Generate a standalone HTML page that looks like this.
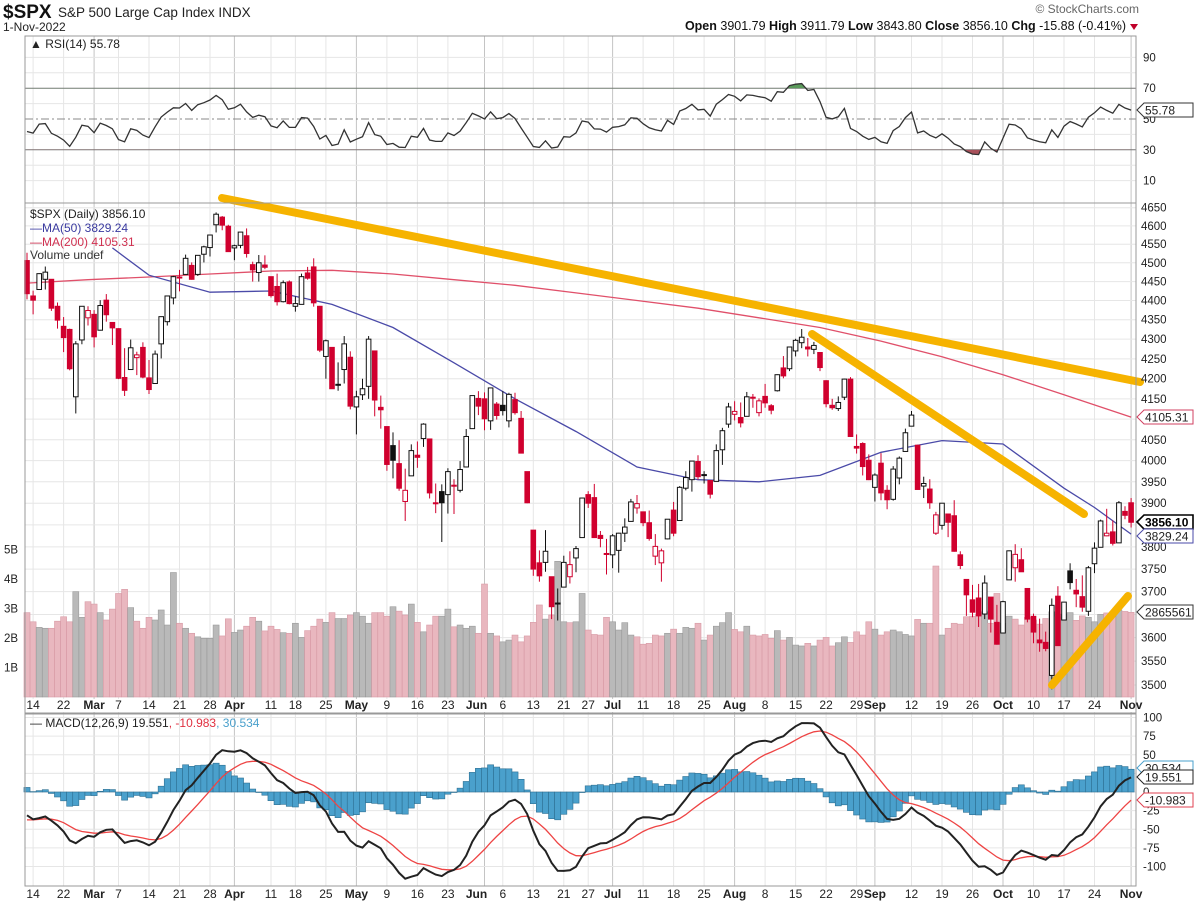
<!DOCTYPE html>
<html><head><meta charset="utf-8"><style>
html,body{margin:0;padding:0;background:#fff;}
svg{display:block;font-family:"Liberation Sans",Arial,sans-serif;}
</style></head><body>
<svg id="chart" width="1200" height="910" viewBox="0 0 1200 910" xmlns="http://www.w3.org/2000/svg">
<rect x="0" y="0" width="1200" height="910" fill="#fff"/>
<g>
<text x="3" y="18" font-size="19" font-weight="bold" fill="#111">$SPX</text>
<text x="58" y="17" font-size="13.5" fill="#222">S&amp;P 500 Large Cap Index  INDX</text>
<text x="3" y="31" font-size="12" fill="#222">1-Nov-2022</text>
<text x="1139" y="13" font-size="12" fill="#666" text-anchor="end">© StockCharts.com</text>
<text x="1126" y="30" font-size="12.5" fill="#111" text-anchor="end"><tspan font-weight="bold">Open</tspan> 3901.79  <tspan font-weight="bold">High</tspan> 3911.79  <tspan font-weight="bold">Low</tspan> 3843.80  <tspan font-weight="bold">Close</tspan> 3856.10  <tspan font-weight="bold">Chg</tspan> -15.88 (-0.41%)</text>
<path d="M1130 24 L1138 24 L1134 30 Z" fill="#c0002a"/>
</g>
<g id="grid"></g>
<g id="vol"></g>
<g id="price"></g>
<g id="rsi"></g>
<g id="macd"></g>
<g id="trend">
<line x1="222" y1="198" x2="1140" y2="382" stroke="#f6b300" stroke-width="8" stroke-linecap="round"/>
<line x1="812" y1="334" x2="1084" y2="514" stroke="#f6b300" stroke-width="8" stroke-linecap="round"/>
<line x1="1052" y1="685" x2="1128" y2="596" stroke="#f6b300" stroke-width="8" stroke-linecap="round"/>
</g>
<g id="frames"></g>
<g id="labels"></g>
</svg>
<script>
// ---- data (Feb 11 2022 .. Nov 1 2022) ----
const opens = [4506,4412,4429,4456,4456,4385,4333,4325,4155,4298,4355,
4364,4323,4401,4343,4327,4203,4223,4253,4279,4202,4188,4288,4345,4407,4462,4469,4493,4469,4523,4541,4603,4624,4599,
4540,4547,4573,4495,4474,4494,4463,4437,4397,4449,4385,4390,4473,4489,4385,4256,4279,4186,4223,4254,
4130,4160,4181,4270,4129,4082,4036,3993,3904,3964,4013,4053,4052,3900,3927,3920,3942,3930,3985,4077,4151,
4150,4096,4137,4134,4096,4148,4102,3974,3838,3764,3765,3733,3675,3710,3733,3775,3821,3920,3913,3826,3785,
3782,3792,3831,3858,3889,3880,3855,3779,3764,3818,3884,3860,3935,3955,3998,3965,3953,3951,4026,4088,
4112,4104,4107,4154,4116,4156,4133,4170,4227,4225,4270,4291,4280,4274,4266,4195,4134,4126,4154,4199,4034,4041,4001,
3937,3994,3930,3909,3959,4022,4083,4037,3940,3933,3831,3849,3875,3871,3782,3727,3682,3686,3651,3688,3633,
3610,3726,3753,3771,3707,3646,3595,3590,3520,3690,3638,3746,3703,3689,3657,3762,3799,3825,3834,3809,3881,
3901];
const highs = [4527,4426,4472,4490,4456,4395,4357,4327,4295,4385,4385,
4375,4401,4417,4343,4328,4277,4299,4268,4292,4247,4271,4358,4412,4465,4481,4522,4501,4520,4546,4575,4637,4627,4603,
4549,4583,4593,4503,4521,4520,4463,4471,4453,4453,4411,4471,4489,4512,4386,4299,4279,4241,4308,4269,
4170,4200,4308,4270,4158,4082,4068,4049,3981,4039,4046,4090,4052,3946,3944,3982,3956,3999,4076,4158,4169,
4166,4177,4142,4169,4165,4165,4120,3974,3838,3792,3838,3733,3707,3780,3790,3802,3913,3928,3945,3836,3818,
3829,3832,3865,3910,3919,3880,3883,3829,3796,3863,3903,3940,3975,3999,4013,3975,3954,4039,4079,4140,
4144,4141,4167,4162,4151,4187,4137,4211,4257,4280,4301,4326,4303,4293,4267,4196,4150,4156,4200,4204,4063,4044,4015,
3970,4018,3942,3987,4010,4077,4120,4038,3962,3956,3880,3900,3876,3907,3790,3727,3715,3717,3736,3688,3671,
3680,3792,3806,3797,3707,3652,3641,3613,3685,3712,3677,3763,3728,3736,3757,3810,3862,3887,3860,3905,3893,
3912];
const lows = [4403,4364,4429,4429,4373,4327,4267,4221,4114,4287,4335,
4279,4322,4345,4285,4199,4157,4223,4209,4201,4162,4187,4251,4335,4390,4424,4469,4455,4465,4501,4517,4582,4588,4530,
4507,4539,4514,4450,4450,4483,4408,4387,4395,4390,4371,4390,4455,4384,4267,4200,4175,4170,4188,4124,
4063,4147,4150,4107,4077,3976,3958,3929,3859,3964,3983,4033,3911,3877,3811,3876,3875,3925,3984,4077,4110,
4073,4074,4099,4109,4080,4111,4018,3900,3735,3722,3744,3640,3637,3710,3718,3743,3821,3889,3820,3799,3738,
3752,3742,3811,3858,3876,3847,3814,3759,3722,3817,3824,3860,3930,3927,3955,3946,3911,3951,3990,4079,
4097,4080,4107,4128,4107,4128,4112,4168,4201,4219,4256,4277,4256,4262,4219,4129,4123,4120,4147,4057,4017,3965,3954,
3904,3907,3886,3906,3944,4022,4083,3933,3912,3887,3827,3839,3822,3789,3750,3647,3644,3623,3640,3611,3585,
3610,3726,3722,3744,3633,3588,3570,3571,3491,3583,3638,3705,3666,3656,3647,3741,3799,3824,3803,3809,3863,
3844];
const closes = [4418,4401,4471,4475,4380,4349,4304,4225,4288,4385,4374,
4306,4387,4363,4329,4201,4171,4278,4260,4204,4173,4262,4358,4412,4463,4461,4512,4456,4520,4543,4575,4632,4602,4530,
4546,4583,4525,4481,4500,4488,4413,4397,4447,4392,4392,4463,4459,4394,4272,4296,4175,4184,4288,4132,
4155,4175,4300,4147,4123,3991,4001,3935,3930,4024,4008,4088,3924,3901,3901,3974,3941,3979,4058,4158,4132,
4101,4177,4109,4121,4161,4116,4018,3901,3750,3735,3790,3667,3675,3765,3760,3796,3912,3900,3821,3819,3785,
3825,3831,3845,3903,3899,3855,3819,3801,3791,3863,3831,3937,3960,3999,3962,3967,3921,4024,4072,4130,
4119,4091,4155,4152,4145,4140,4122,4210,4207,4280,4297,4305,4275,4284,4228,4138,4128,4141,4199,4058,4030,3986,3955,
3966,3924,3908,3980,4006,4067,4110,3932,3946,3901,3873,3900,3856,3790,3758,3693,3655,3647,3719,3640,3586,
3678,3791,3783,3744,3640,3612,3589,3577,3670,3583,3677,3720,3695,3666,3753,3797,3859,3831,3808,3901,3872,
3856];
const priorCloses = [4513,4577,4538,4592,4686,4701,4668,4712,4669,4635,4709,4669,4621,4568,4649,4697,4726,4791,4786,4793,4778,4766,
4796,4793,4701,4696,4677,4670,4713,4726,4660,4663,4577,4533,4483,4398,4410,4357,4350,4327,4432,4516,
4546,4589,4477,4501,4484,4522,4587,4504];
const volumes = [2.86,2.55,2.36,2.33,2.33,2.57,2.72,2.55,3.57,2.70,3.23,3.15,2.86,2.61,2.98,3.51,3.65,3.03,2.57,2.33,2.70,2.61,2.95,2.44,4.22,
2.50,2.33,2.16,2.04,1.99,1.99,2.44,2.07,2.65,2.19,2.27,2.40,2.70,2.57,2.24,2.40,2.29,2.18,2.16,2.50,2.02,2.25,2.40,2.64,2.53,
2.86,2.66,2.66,2.78,2.86,2.74,2.50,2.86,2.86,2.74,3.06,2.91,2.78,3.15,2.53,2.21,2.44,2.74,2.74,2.98,2.38,2.44,2.33,2.40,2.16,
3.83,2.16,2.07,1.87,1.93,2.10,1.87,2.07,2.53,3.12,2.64,2.78,4.6,2.55,
2.52,2.55,3.51,2.27,2.12,2.10,2.70,2.55,2.27,2.52,2.10,2.04,1.79,1.82,2.10,2.07,2.16,2.30,2.16,2.36,
2.33,2.50,1.93,2.10,2.40,2.52,2.86,2.29,2.21,2.40,2.10,2.07,2.12,1.99,2.25,1.93,2.02,1.76,1.73,1.82,
1.73,1.93,2.02,1.73,1.84,2.04,1.85,2.21,2.10,2.55,2.30,2.10,2.21,2.27,2.21,2.12,2.07,2.63,2.50,2.50,
4.44,
2.10,2.33,2.50,2.47,2.72,2.74,2.80,2.89,2.50,3.51,
2.50,2.74,2.64,2.44,2.70,2.61,2.47,2.66,2.89,2.72,2.81,2.86,2.60,2.75,2.70,2.55,2.80,2.85,2.90,2.95,2.90,2.87];
const ma200Days = [0,10,20,30,40,50,60,70,80,90,100,110,120,130,140,150,160,170,181];
const ma200Vals = [4446,4455,4462,4470,4478,4480,4470,4455,4440,4420,4400,4380,4355,4330,4295,4255,4210,4160,4105];
const ma50Days = [14,20,30,40,50,60,70,80,90,100,110,120,130,140,150,160,170,175,181];
const ma50Vals = [4540,4467,4422,4425,4390,4330,4240,4150,4070,3985,3955,3950,3965,4020,4048,4040,3935,3890,3829];
const xLabelDays = [1,6,11,15,20,25,30,34,40,44,49,54,59,64,69,75,78,83,88,92,96,101,106,111,116,121,126,131,136,139,145,150,155,160,165,170,175,181];
const xLabelText = ['14','22','Mar','7','14','21','28','Apr','11','18','25','May','9','16','23','Jun','6','13','21','27','Jul','11','18','25','Aug','8','15','22','29','Sep','12','19','26','Oct','10','17','24','Nov'];
const monthLabels = ['Mar','Apr','May','Jun','Jul','Aug','Sep','Oct','Nov'];
const priceTicks = [3500,3550,3600,3650,3700,3750,3800,3850,3900,3950,4000,4050,4100,4150,4200,4250,4300,4350,4400,4450,4500,4550,4600,4650];
const volTicks = [1,2,3,4,5];
const rsiTicks = [10,30,50,70,90];
const macdTicks = [100,75,50,25,0,-25,-50,-75,-100];

// ---- geometry ----
const L=25, R=1136;
const xOf = i => 27 + i*6.1;
const yP = p => 685 - 1680*Math.log(p/3500);
const yV = v => 697 - v*29.5;
const yR = r => 119 - (r-50)*1.54;
const yM = m => 792 - m*0.745;
const NS='http://www.w3.org/2000/svg';
function mk(parent, tag, attrs, text){
  const e=document.createElementNS(NS,tag);
  for(const k in attrs) e.setAttribute(k, attrs[k]);
  if(text!==undefined) e.textContent=text;
  document.getElementById(parent).appendChild(e);
  return e;
}

// ---- indicators derived from closes ----
const all = priorCloses.concat(closes);
function ema(arr, n){const k=2/(n+1);const out=[];let e=arr[0];for(let i=0;i<arr.length;i++){e = i===0?arr[0]:arr[i]*k+e*(1-k);out.push(e);}return out;}
const e12=ema(all,12), e26=ema(all,26);
const macdAll=all.map((v,i)=>e12[i]-e26[i]);
const sigAll=ema(macdAll,9);
const off=priorCloses.length;
const macdLine=macdAll.slice(off), sigLine=sigAll.slice(off);
const rsiAll=[];
(function(){let ag=0,al=0;for(let i=1;i<all.length;i++){const d=all[i]-all[i-1];const g=Math.max(d,0),l=Math.max(-d,0);
 if(i<=14){ag+=g/14;al+=l/14;} else {ag=(ag*13+g)/14;al=(al*13+l)/14;}
 rsiAll[i]= al===0?100:100-100/(1+ag/al);}})();
const rsiLine=rsiAll.slice(off);

// ---- grid ----
xLabelDays.forEach((d,k)=>{
  const x=xOf(d); const isM=monthLabels.includes(xLabelText[k]);
  const ln=mk('grid','line',{x1:x,x2:x,y1:36,y2:886,stroke:isM?'#c4c4c4':'#e6e6e6','stroke-width':1});
  
  
});
priceTicks.forEach(p=>{
  const l=mk('grid','line',{x1:L,x2:R,y1:yP(p),y2:yP(p),stroke:'#e6e6e6'});
  
  
});
[10,20,40,60,80,90].forEach(r=>{
  const l=mk('grid','line',{x1:L,x2:R,y1:yR(r),y2:yR(r),stroke:'#e6e6e6'});
  
  
});
macdTicks.forEach(m=>{
  const l=mk('grid','line',{x1:L,x2:R,y1:yM(m),y2:yM(m),stroke:'#e6e6e6'});
  
  
});

// ---- volume ----
volumes.forEach((v,i)=>{
  const down = i>0 ? closes[i]<closes[i-1] : closes[i]<opens[i];
  const r=mk('vol','rect',{x:xOf(i)-3,y:yV(v),width:6,height:697-yV(v),fill:down?'#e9b7bf':'#b9b9b9',stroke:down?'#d79aa5':'#9a9a9a','stroke-width':0.6});
  
  
});

// ---- moving averages ----
function poly(days, vals){return days.map((d,k)=>xOf(d).toFixed(1)+','+yP(vals[k]).toFixed(1)).join(' ');}
const m200=mk('price','polyline',{points:poly(ma200Days,ma200Vals),fill:'none',stroke:'#e0506a','stroke-width':1.3});


const m50=mk('price','polyline',{points:poly(ma50Days,ma50Vals),fill:'none',stroke:'#4a4aa8','stroke-width':1.3});



// ---- candles ----
closes.forEach((c,i)=>{
  const o=opens[i],h=highs[i],l=lows[i];
  const down = i>0 ? c<closes[i-1] : c<o;
  const col = down?'#d0002e':'#111';
  const x=xOf(i);
  const w=mk('price','line',{x1:x,x2:x,y1:yP(h),y2:yP(l),stroke:col,'stroke-width':1});
  
  
  const top=yP(Math.max(o,c)), bot=yP(Math.min(o,c));
  const hollow = c>=o;
  const b=mk('price','rect',{x:x-2.3,y:top,width:4.6,height:Math.max(bot-top,1),fill:hollow?'#fff':col,stroke:col,'stroke-width':1});
  
  
});

// ---- RSI ----
[[70,'#777','none'],[30,'#777','none'],[50,'#888','8,3,2,3']].forEach(a=>{
  const l=mk('rsi','line',{x1:L,x2:R,y1:yR(a[0]),y2:yR(a[0]),stroke:a[1],'stroke-dasharray':a[2]});
  
  
});
const rsiPts=rsiLine.map((r,i)=>xOf(i).toFixed(1)+','+yR(r).toFixed(1));
mk('rsi','clipPath',{id:'ob'}).innerHTML='<rect x="25" y="30" width="1111" height="'+(yR(70)-30)+'"/>';
mk('rsi','clipPath',{id:'os'}).innerHTML='<rect x="25" y="'+yR(30)+'" width="1111" height="60"/>';
const ob=mk('rsi','polygon',{points:xOf(0)+','+yR(70)+' '+rsiPts.join(' ')+' '+xOf(rsiLine.length-1)+','+yR(70),fill:'#5a9a5a','clip-path':'url(#ob)'});


const os=mk('rsi','polygon',{points:xOf(0)+','+yR(30)+' '+rsiPts.join(' ')+' '+xOf(rsiLine.length-1)+','+yR(30),fill:'#a8505a','clip-path':'url(#os)'});


const rl=mk('rsi','polyline',{points:rsiPts.join(' '),fill:'none',stroke:'#333','stroke-width':1.3});



// ---- MACD ----
macdLine.forEach((m,i)=>{
  const hv=m-sigLine[i];
  const y0=yM(0), y1=yM(hv);
  const r=mk('macd','rect',{x:xOf(i)-3.05,y:Math.min(y0,y1),width:6.1,height:Math.max(Math.abs(y1-y0),0.5),fill:'#4aa0cc',stroke:'#2d6f92','stroke-width':0.6});
  
  
});
const sl=mk('macd','polyline',{points:sigLine.map((v,i)=>xOf(i).toFixed(1)+','+yM(v).toFixed(1)).join(' '),fill:'none',stroke:'#ee4444','stroke-width':1.3});


const ml=mk('macd','polyline',{points:macdLine.map((v,i)=>xOf(i).toFixed(1)+','+yM(v).toFixed(1)).join(' '),fill:'none',stroke:'#222','stroke-width':2});



// ---- frames ----
[[36,203],[203,713],[714,886]].forEach(p=>{
  const r=mk('frames','rect',{x:L,y:p[0],width:R-L,height:p[1]-p[0],fill:'none',stroke:'#999','stroke-width':1});
  
  
});
const wb=mk('frames','rect',{x:L+1,y:699,width:R-L-2,height:13,fill:'#fff'});



// ---- labels ----
xLabelDays.forEach((d,k)=>{
  const t=xLabelText[k]; const isM=monthLabels.includes(t);
  let x=xOf(d); if(t==='Jun') x-=8;
  [709,898].forEach(y=>{
    const e=mk('labels','text',{x:x,y:y,'font-size':12,'text-anchor':'middle','font-weight':isM?'bold':'normal',fill:'#222'},t);
    
    
  });
});
priceTicks.forEach(p=>{
  const e=mk('labels','text',{x:1141,y:yP(p)+4,'font-size':11.5,fill:'#222'},String(p));
  
  
});
volTicks.forEach(v=>{
  const e=mk('labels','text',{x:4,y:yV(v)+4,'font-size':11.5,fill:'#222'},v+'B');
  
  
});
rsiTicks.forEach(r=>{
  const e=mk('labels','text',{x:1143,y:yR(r)+4,'font-size':11.5,fill:'#222'},String(r));
  
  
});
macdTicks.forEach(m=>{
  const e=mk('labels','text',{x:1143,y:yM(m)+4,'font-size':11.5,fill:'#222'},String(m));
  
  
});
function tag(y,text,color,bold,name){
  const p=mk('labels','path',{d:`M1137 ${y} L1144 ${y-7} L1193 ${y-7} L1193 ${y+7} L1144 ${y+7} Z`,fill:'#fff',stroke:color,'stroke-width':bold?1.6:1});
  
  
  const t=mk('labels','text',{x:1145,y:y+4.5,'font-size':12,fill:bold?'#000':'#222','font-weight':bold?'bold':'normal'},text);
  
  
}
const last=closes.length-1;
tag(Math.round(yR(rsiLine[last])),'55.78','#333',false,'rsi');
tag(Math.round(yP(ma200Vals[ma200Vals.length-1])),'4105.31','#d04060',false,'ma200');
tag(Math.round(yP(closes[last])),'3856.10','#000',true,'close');
tag(Math.round(yP(ma50Vals[ma50Vals.length-1]))+2,'3829.24','#4a4aa8',false,'ma50');
tag(Math.round(yV(volumes[last])),'2865561','#333',false,'volume');
tag(768,'30.534','#4aa0cc',false,'macd-hist');
tag(777,'19.551','#222',false,'macd');
tag(800,'-10.983','#e04050',false,'macd-signal');

// legends
const lg=[[30,48,'▲ RSI(14) 55.78','#222','rsi-legend'],[30,218,'$SPX (Daily) 3856.10','#222','price-legend'],
[30,232,'—MA(50) 3829.24','#3a3aa0','ma50-legend'],[30,246,'—MA(200) 4105.31','#d03050','ma200-legend'],[30,259,'Volume undef','#333','volume-legend']];
lg.forEach(a=>{
  const e=mk('labels','text',{x:a[0],y:a[1],'font-size':12,fill:a[3]},a[2]);
  
  
});
const mt=mk('labels','text',{x:30,y:727,'font-size':12,fill:'#222'});


mt.innerHTML='— MACD(12,26,9) 19.551<tspan fill="#e03040">, -10.983</tspan><tspan fill="#4aa0cc">, 30.534</tspan>';
</script>
</body></html>
